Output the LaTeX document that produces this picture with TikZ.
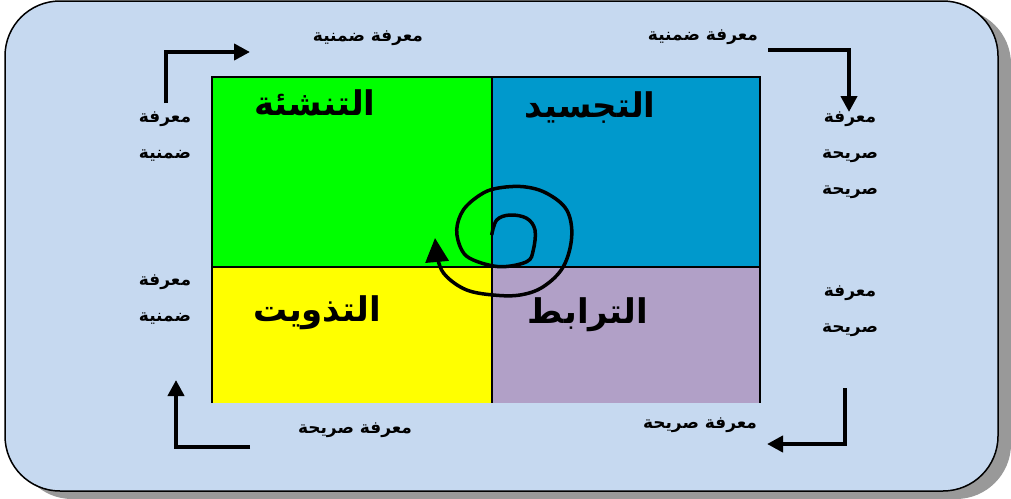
\documentclass[tikz,border=0pt]{standalone}
\usepackage{fontspec}
\newfontfamily\arabicfont[Script=Arabic]{DejaVu Sans}
\TeXXeTstate=1
\usetikzlibrary{arrows.meta}
\definecolor{panelblue}{HTML}{C6D9F0}
\definecolor{quadgreen}{HTML}{00FF00}
\definecolor{quadblue}{HTML}{0099CC}
\definecolor{quadyellow}{HTML}{FFFF00}
\definecolor{quadlilac}{HTML}{B1A0C7}
\newcommand{\artxt}[1]{\beginR #1\endR}

\begin{document}
\begin{tikzpicture}[x=1pt,y=-1pt,
  lbl/.style={font=\arabicfont\bfseries\fontsize{17}{36}\selectfont,align=center,inner sep=0pt},
  quadtitle/.style={font=\arabicfont\bfseries\fontsize{34}{36}\selectfont,inner sep=0pt},
  flow/.style={line width=4.5pt,-{Triangle[length=16pt,width=16pt]}}]
  \useasboundingbox (0,0) rectangle (1011,498);
  % frame and its shadow
  \fill[black!40,rounded corners=55pt] (17,9) rectangle (1011,499);
  \filldraw[fill=panelblue,draw=black,line width=1.5pt,rounded corners=55pt] (5,1) rectangle (998,491);
  % the four quadrants
  \fill[quadgreen] (212,77) rectangle (492,267);
  \fill[quadblue] (492,77) rectangle (760,267);
  \fill[quadyellow] (212,267) rectangle (492,403);
  \fill[quadlilac] (492,267) rectangle (760,403);
  \draw[line width=2.5pt] (212,403) -- (212,77) -- (760,77) -- (760,403);
  \draw[line width=1.8pt] (492,77) -- (492,403);
  \draw[line width=1.8pt] (212,267) -- (760,267);
  \node[quadtitle] (soc) at (315,103) {\artxt{التنشئة}};
  \node[quadtitle] (ext) at (590,108) {\artxt{التجسيد}};
  \node[quadtitle] (inte) at (317,313) {\artxt{التذويت}};
  \node[quadtitle] (comb) at (588,315) {\artxt{الترابط}};
  % spiral through the middle
  \draw[line width=3.5pt,-{Triangle[length=24pt,width=23pt]}] plot[smooth,tension=0.6] coordinates {
    (491.7,235) (496.7,220) (510,215) (526.7,218.3) (535,230) (533.3,250)
    (526.7,261.7) (500,266.7) (473.3,260) (461.7,250) (456.7,230) (463.3,210)
    (480,195) (496.7,188.3) (523.3,186.7) (546.7,193.3) (566.7,210) (571.7,236.7)
    (563.3,266.7) (543.3,286.7) (520,295) (493.3,295) (466.7,290) (446.7,276.7)
    (438.5,262) (435,238)};
  % knowledge labels round the square
  \node[lbl] (tlTop) at (368,38) {\artxt{معرفة ضمنية}};
  \node[lbl] (trTop) at (703,37) {\artxt{معرفة ضمنية}};
  \node[lbl] (tlSide) at (165,137) {\artxt{معرفة}\\\artxt{ضمنية}};
  \node[lbl] (trSide) at (850,155) {\artxt{معرفة}\\\artxt{صريحة}\\\artxt{صريحة}};
  \node[lbl] (blSide) at (165,300) {\artxt{معرفة}\\\artxt{ضمنية}};
  \node[lbl] (brSide) at (850,311) {\artxt{معرفة}\\\artxt{صريحة}};
  \node[lbl] (blBot) at (355,430) {\artxt{معرفة صريحة}};
  \node[lbl] (brBot) at (700,425) {\artxt{معرفة صريحة}};
  % corner arrows
  \coordinate (tlA) at (166,103); \coordinate (tlB) at (250,52);
  \coordinate (trA) at (768,50);  \coordinate (trB) at (849,112);
  \coordinate (brA) at (845,388); \coordinate (brB) at (767,444);
  \coordinate (blA) at (250,447); \coordinate (blB) at (176,380);
  \draw[flow] (tlA) |- (tlB);
  \draw[flow] (trA) -| (trB);
  \draw[flow] (brA) |- (brB);
  \draw[flow] (blA) -| (blB);
\end{tikzpicture}
\end{document}
